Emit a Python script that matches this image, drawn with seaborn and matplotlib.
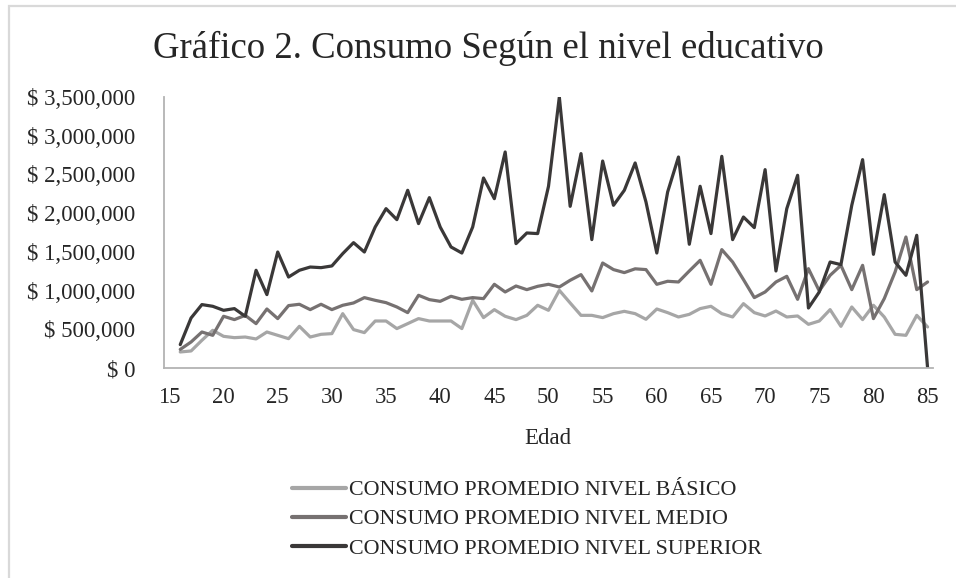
import numpy as np
import pandas as pd
import matplotlib
matplotlib.use('Agg')
import matplotlib.pyplot as plt
from matplotlib.patches import Rectangle
from matplotlib.ticker import FuncFormatter, FixedLocator
import seaborn as sns

# ============================================
# Data
# ============================================
EDAD = list(range(16, 86))

BASICO = [207, 220, 358, 487, 409, 392, 400, 375, 465, 422,
          379, 538, 400, 435, 444, 702, 496, 457, 607, 607,
          509, 573, 638, 607, 607, 607, 509, 874, 651, 754,
          668, 625, 680, 810, 745, 1003, 840, 680, 680, 651,
          702, 732, 702, 629, 762, 715, 659, 693, 767, 797,
          702, 659, 831, 715, 672, 736, 659, 672, 564, 607,
          754, 538, 788, 625, 810, 659, 435, 422, 680, 530]

MEDIO = [240, 336, 465, 422, 668, 625, 680, 573, 762, 638,
         806, 823, 754, 823, 754, 810, 840, 909, 874, 844,
         788, 715, 939, 883, 861, 926, 887, 909, 896, 1081,
         982, 1059, 1012, 1055, 1081, 1046, 1133, 1206, 995, 1356,
         1271, 1232, 1281, 1271, 1081, 1120, 1111, 1253, 1391, 1081,
         1529, 1369, 1142, 909, 982, 1111, 1184, 887, 1283, 995,
         1197, 1326, 1012, 1326, 638, 896, 1240, 1692, 1012, 1111]

SUPERIOR = [302, 646, 819, 797, 745, 767, 668, 1262, 948, 1498,
            1175, 1262, 1304, 1296, 1318, 1477, 1619, 1498, 1821, 2058,
            1916, 2295, 1865, 2200, 1821, 1563, 1485, 1821, 2454, 2187,
            2790, 1606, 1744, 1736, 2347, 3500, 2088, 2769, 1658, 2673,
            2101, 2295, 2648, 2144, 1485, 2273, 2725, 1598, 2347, 1736,
            2734, 1658, 1950, 1813, 2562, 1253, 2058, 2489, 775, 982,
            1369, 1335, 2101, 2691, 1468, 2239, 1369, 1197, 1714, 0]

SERIES = ['CONSUMO PROMEDIO NIVEL BÁSICO',
          'CONSUMO PROMEDIO NIVEL MEDIO',
          'CONSUMO PROMEDIO NIVEL SUPERIOR']
COLORS = ['#a6a6a6', '#767171', '#3a3838']

X_TICKS = list(range(15, 90, 5))
Y_TICKS = list(range(0, 3500001, 500000))

# ============================================
# Build long-form table
# ============================================
frames = []
for name, vals in zip(SERIES, [BASICO, MEDIO, SUPERIOR]):
    frames.append(pd.DataFrame({'Edad': EDAD,
                                'Consumo': np.array(vals) * 1000,
                                'Serie': name}))
df = pd.concat(frames, ignore_index=True)

sns.set_style('white')
plt.rcParams['font.family'] = ['Liberation Serif', 'DejaVu Serif']

W, H = 956, 578
fig = plt.figure(figsize=(W / 100, H / 100), dpi=100)
ax = fig.add_axes([164 / W, 1 - 368 / H, (933 - 164) / W, (368 - 97) / H])

sns.lineplot(data=df, x='Edad', y='Consumo', hue='Serie',
             palette=COLORS, linewidth=2.3, ax=ax, legend=False)

axis_gray = '#b3b3b3'
ax.set_xlim(14.5, 85.5)
ax.set_ylim(0, 3500000)
for s in ['top', 'right']:
    ax.spines[s].set_visible(False)
for s in ['left', 'bottom']:
    ax.spines[s].set_color(axis_gray)
    ax.spines[s].set_linewidth(1.3)

# category style: labels centred on categories, ticks at boundaries
ax.xaxis.set_major_locator(FixedLocator(X_TICKS))
ax.xaxis.set_minor_locator(FixedLocator([t - 0.5 for t in X_TICKS]))
ax.tick_params(axis='x', which='major', length=0, pad=14, labelsize=16.3)
ax.tick_params(axis='x', which='minor', length=5, width=1.3,
               color=axis_gray, direction='out')
ax.yaxis.set_major_locator(FixedLocator(Y_TICKS))
ax.yaxis.set_major_formatter(FuncFormatter(lambda v, p: f'$ {v:,.0f}'))
ax.tick_params(axis='y', length=7, width=1.3, color=axis_gray,
               direction='out', pad=13.5, labelsize=16.5)

ax.set_xlabel('')
ax.set_ylabel('')
fig.text(548 / W, 1 - 438 / H, 'Edad', ha='center', va='center', fontsize=16.5)

fig.text(488 / W, 1 - 58 / H, 'Gráfico 2. Consumo Según el nivel educativo',
         ha='center', va='baseline', fontsize=26.5)

handles = [plt.Line2D([], [], color=c, linewidth=3) for c in COLORS]
fig.legend(handles, SERIES, loc='upper left',
           bbox_to_anchor=(292 / W, 1 - 480 / H), frameon=False,
           fontsize=15.8, handlelength=2.45, handletextpad=0.13,
           labelspacing=0.4, borderaxespad=0, borderpad=0)

# chart frame (only top and left visible in reference)
fig.add_artist(Rectangle((8.5 / W, -0.1), 1.2, 1 - 6 / H + 0.1,
                         transform=fig.transFigure, fill=False,
                         edgecolor='#d9d9d9', linewidth=1.6))

fig.savefig('out.png', dpi=100)
